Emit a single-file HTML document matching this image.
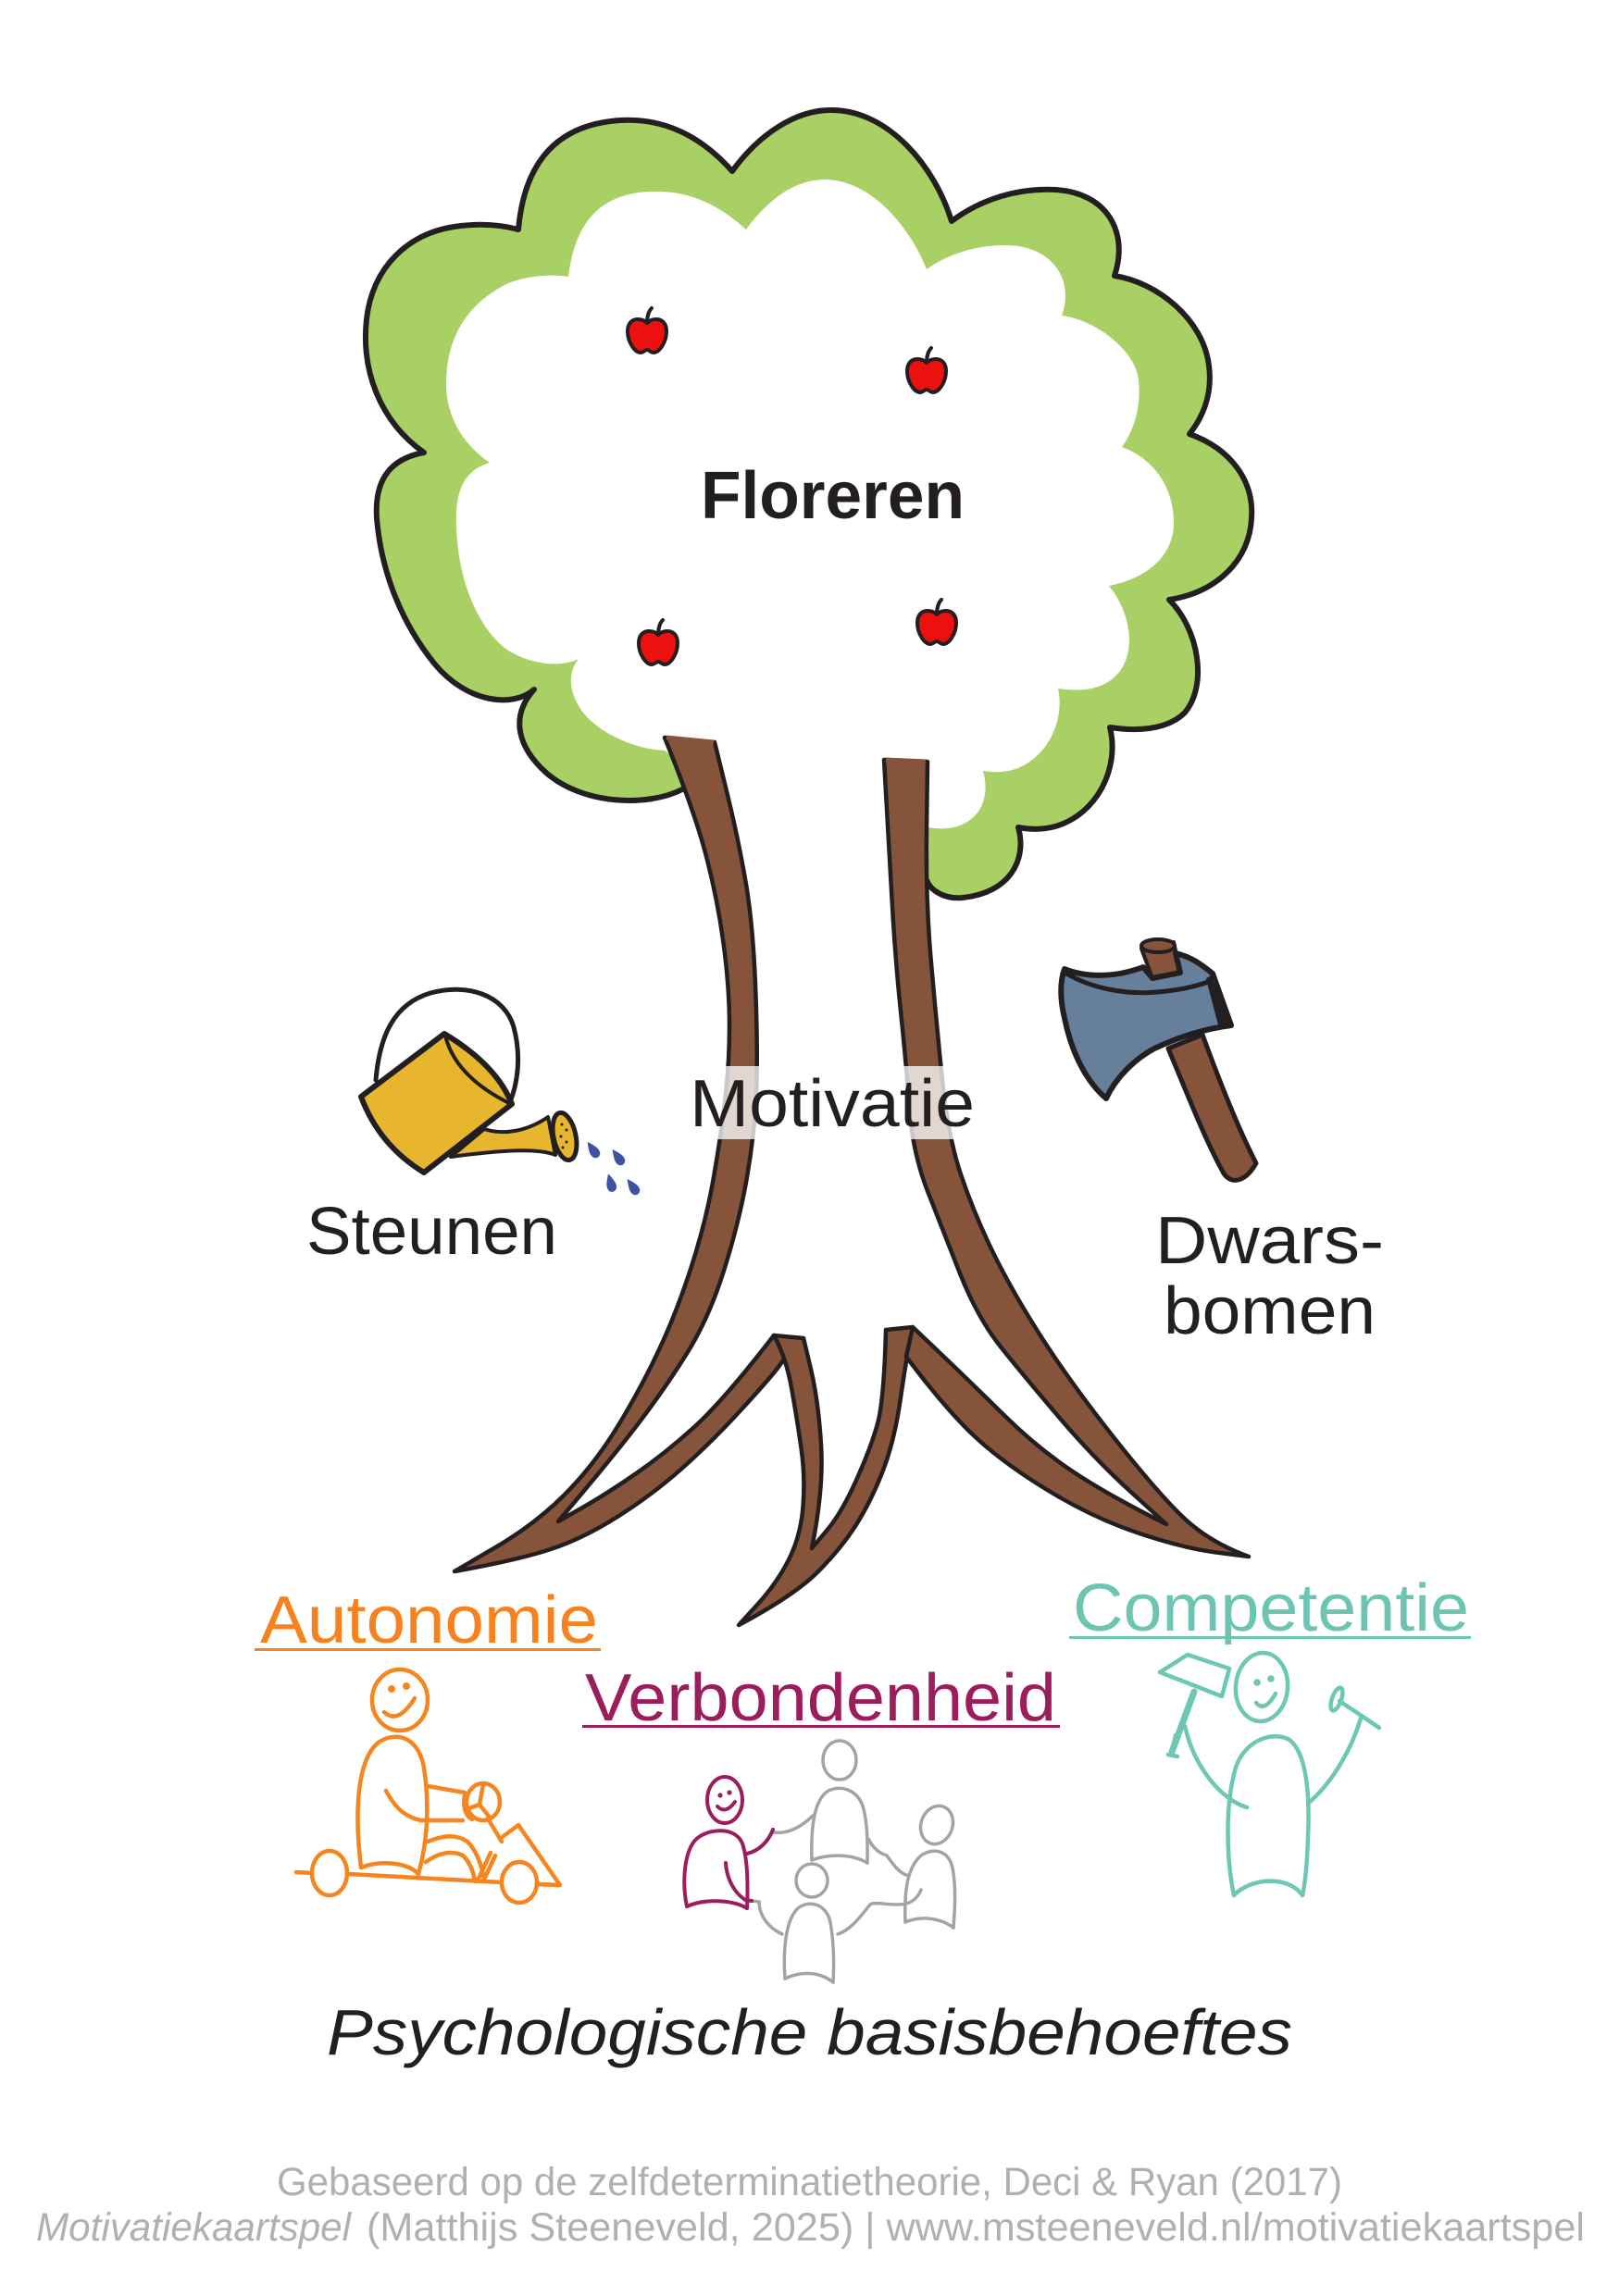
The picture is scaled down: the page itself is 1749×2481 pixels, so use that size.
<!DOCTYPE html>
<html>
<head>
<meta charset="utf-8">
<style>
html,body{margin:0;padding:0;background:#fff;}
svg{display:block;}
text{font-family:"Liberation Sans",sans-serif;}
</style>
</head>
<body>
<svg width="1749" height="2481" viewBox="0 0 1749 2481" xmlns="http://www.w3.org/2000/svg">
<rect width="1749" height="2481" fill="#fff"/>

<!-- Crown green -->
<path fill="#a8d064" d="M 737 853 C 700 872 630 870 590 835 C 560 808 550 775 577 745 C 555 765 505 760 470 718 C 435 675 412 620 407 560 C 404 515 425 495 458 489 C 410 455 390 400 396 345 C 402 290 440 250 498 244 C 525 241 545 244 560 248 C 565 190 590 135 670 130 C 720 127 760 150 791 185 C 820 145 860 118 900 119 C 960 120 1010 180 1028 239 C 1060 215 1100 203 1140 205 C 1195 208 1220 250 1204 298 C 1250 305 1300 345 1306 395 C 1310 425 1300 450 1285 469 C 1330 485 1355 520 1352 560 C 1350 605 1315 640 1263 648 C 1295 680 1305 740 1280 770 C 1260 790 1225 790 1199 786 C 1210 830 1185 880 1140 893 C 1125 897 1110 896 1100 894 C 1110 930 1090 965 1040 970 C 1020 972 1005 962 1001 951 L 990 830 L 760 800 Z"/>
<path fill="none" stroke="#231f20" stroke-width="6" stroke-linejoin="round" stroke-linecap="round" d="M 737 853 C 700 872 630 870 590 835 C 560 808 550 775 577 745 C 555 765 505 760 470 718 C 435 675 412 620 407 560 C 404 515 425 495 458 489 C 410 455 390 400 396 345 C 402 290 440 250 498 244 C 525 241 545 244 560 248 C 565 190 590 135 670 130 C 720 127 760 150 791 185 C 820 145 860 118 900 119 C 960 120 1010 180 1028 239 C 1060 215 1100 203 1140 205 C 1195 208 1220 250 1204 298 C 1250 305 1300 345 1306 395 C 1310 425 1300 450 1285 469 C 1330 485 1355 520 1352 560 C 1350 605 1315 640 1263 648 C 1295 680 1305 740 1280 770 C 1260 790 1225 790 1199 786 C 1210 830 1185 880 1140 893 C 1125 897 1110 896 1100 894 C 1110 930 1090 965 1040 970 C 1020 972 1005 962 1001 951"/>
<!-- Crown white inner -->
<path fill="#fff" d="M 718 811 C 690 810 650 795 630 770 C 615 750 612 728 625 712 C 605 722 570 718 545 700 C 515 675 498 630 494 585 C 490 540 495 510 529 500 C 500 480 482 450 482 415 C 482 370 500 330 549 306 C 570 298 595 296 614 299 C 620 250 640 215 690 208 C 740 202 775 220 806 248 C 830 215 860 193 893 194 C 945 196 985 250 1001 291 C 1030 270 1070 262 1100 266 C 1140 272 1160 305 1147 341 C 1180 345 1225 375 1230 410 C 1233 440 1225 465 1212 483 C 1245 495 1268 525 1268 565 C 1268 600 1240 625 1198 633 C 1220 660 1228 700 1210 725 C 1195 745 1170 748 1143 744 C 1150 775 1135 815 1100 830 C 1085 835 1075 835 1062 833 C 1070 860 1060 890 1025 895 C 1015 896 1008 895 1001 894 L 960 894 L 760 840 Z"/>

<!-- Apples -->
<g fill="#ec1010" stroke="#231f20" stroke-width="4" stroke-linejoin="round" stroke-linecap="round">
  <g transform="translate(699,362)"><path d="M 0 -13 C -5 -19 -21 -20 -21 -4 C -21 8 -13 19 -7 19 C -4 19 -2 16 0 16 C 2 16 4 19 7 19 C 13 19 21 8 21 -4 C 21 -20 5 -19 0 -13 Z"/><path fill="none" d="M 0 -13 C 0 -20 2 -26 5 -29"/></g>
  <g transform="translate(1001,405)"><path d="M 0 -13 C -5 -19 -21 -20 -21 -4 C -21 8 -13 19 -7 19 C -4 19 -2 16 0 16 C 2 16 4 19 7 19 C 13 19 21 8 21 -4 C 21 -20 5 -19 0 -13 Z"/><path fill="none" d="M 0 -13 C 0 -20 2 -26 5 -29"/></g>
  <g transform="translate(711,699)"><path d="M 0 -13 C -5 -19 -21 -20 -21 -4 C -21 8 -13 19 -7 19 C -4 19 -2 16 0 16 C 2 16 4 19 7 19 C 13 19 21 8 21 -4 C 21 -20 5 -19 0 -13 Z"/><path fill="none" d="M 0 -13 C 0 -20 2 -26 5 -29"/></g>
  <g transform="translate(1012,677)"><path d="M 0 -13 C -5 -19 -21 -20 -21 -4 C -21 8 -13 19 -7 19 C -4 19 -2 16 0 16 C 2 16 4 19 7 19 C 13 19 21 8 21 -4 C 21 -20 5 -19 0 -13 Z"/><path fill="none" d="M 0 -13 C 0 -20 2 -26 5 -29"/></g>
</g>

<text x="757" y="560" font-size="72" font-weight="bold" fill="#231f20" textLength="285" lengthAdjust="spacingAndGlyphs">Floreren</text>

<!-- Trunk -->
<g fill="#86543a" stroke="#231f20" stroke-width="4.5" stroke-linejoin="round">
  <path d="M 772 802 L 785 855 Q 798 908 806 955.5 Q 814 1003 816.5 1076.5 Q 819 1150 816.5 1191.5 Q 814 1233 806 1277.5 Q 798 1322 782 1373 Q 766 1424 742 1462.5 Q 718 1501 689 1539 Q 660 1577 603 1644 L 628.5 1629.5 Q 654 1615 686 1593 Q 718 1571 750 1542 Q 782 1513 836 1443 L 849 1466 L 841 1477 Q 833 1488 801 1523 Q 769 1558 737 1586.5 Q 705 1615 667 1639 Q 629 1663 593.5 1674.5 Q 558 1686 491 1698 L 534.5 1672.5 Q 578 1647 609.5 1615.5 Q 641 1584 666.5 1542.5 Q 692 1501 711.5 1459.5 Q 731 1418 746.5 1370 Q 762 1322 770 1277.5 Q 778 1233 783 1191.5 Q 788 1150 788 1108.5 Q 788 1067 781.5 1019 Q 775 971 762.5 923.5 Q 750 876 718 797 Z"/>
  <path d="M 836 1443 L 868 1446 L 876 1479.5 Q 884 1513 887 1561 Q 890 1609 877 1673 L 893 1654 Q 909 1635 925 1599.5 Q 941 1564 948 1538.5 Q 955 1513 957 1437 L 986 1434 L 982.5 1451.5 Q 979 1469 972.5 1513.5 Q 966 1558 953.5 1590 Q 941 1622 925 1647.5 Q 909 1673 883.5 1698.5 Q 858 1724 798 1756 L 818.5 1733.5 Q 839 1711 852 1685.5 Q 865 1660 867.5 1628 Q 870 1596 865.5 1564.5 Q 861 1533 855 1499.5 Q 849 1466 836 1443 Z"/>
  <path d="M 955 821 L 1002 823 L 1001 897 Q 1000 971 1005.5 1035 Q 1011 1099 1017.5 1162.5 Q 1024 1226 1036.5 1264.5 Q 1049 1303 1068.5 1344.5 Q 1088 1386 1120 1437 Q 1152 1488 1199.5 1548.5 Q 1247 1609 1276 1637.5 Q 1305 1666 1349 1682 L 1314 1677.5 Q 1279 1673 1231 1657 Q 1183 1641 1135.5 1612.5 Q 1088 1584 1056 1555 Q 1024 1526 979 1466 L 986 1434 L 1017.5 1464 Q 1049 1494 1084.5 1529 Q 1120 1564 1158 1589.5 Q 1196 1615 1260 1647 L 1221.5 1612 Q 1183 1577 1145 1532.5 Q 1107 1488 1081.5 1456 Q 1056 1424 1037 1376 Q 1018 1328 1002 1287 Q 986 1246 982.5 1198 Q 979 1150 973 1092.5 Q 967 1035 963.5 971.5 Q 960 908 955 821 Z"/>
</g>
<!-- hide top edge strokes -->
<line x1="720" y1="797" x2="771" y2="802" stroke="#86543a" stroke-width="5"/>
<line x1="957" y1="821" x2="1000" y2="823" stroke="#86543a" stroke-width="5"/>

<rect x="742" y="1152" width="316" height="79" fill="#fff" opacity="0.76"/>
<text x="745" y="1217" font-size="72" fill="#231f20" textLength="308" lengthAdjust="spacingAndGlyphs">Motivatie</text>

<!-- Watering can -->
<g stroke="#231f20" stroke-linejoin="round" stroke-linecap="round">
  <path fill="none" stroke-width="5" d="M 406 1167 C 410 1120 425 1085 465 1073 C 505 1062 545 1075 555 1110 C 563 1140 560 1170 550 1193"/>
  <path fill="#e8b52f" stroke-width="4" d="M 523 1220 C 545 1227 570 1222 592 1207 L 600 1248 C 580 1240 540 1243 487 1250 Z"/>
  <path fill="#e8b52f" stroke-width="6" d="M 390 1185 L 480 1117 C 510 1135 540 1160 553 1193 L 458 1267 C 430 1250 405 1225 390 1185 Z"/>
  <path fill="none" stroke-width="4" d="M 481 1119 C 488 1148 510 1172 550 1192"/>
  <ellipse cx="610" cy="1228" rx="12" ry="26" transform="rotate(-12 610 1228)" fill="#e8b52f" stroke-width="5"/>
</g>
<g fill="#231f20">
  <circle cx="607" cy="1215" r="1.5"/><circle cx="612" cy="1221" r="1.5"/><circle cx="606" cy="1228" r="1.5"/><circle cx="612" cy="1234" r="1.5"/><circle cx="608" cy="1240" r="1.5"/>
</g>
<g fill="#3f51a3">
  <path transform="translate(641,1243) rotate(-35)" d="M 0 -11 Q 6 0 5 4 A 5 5 0 0 1 -5 4 Q -6 0 0 -11 Z"/>
  <path transform="translate(668,1251) rotate(-35)" d="M 0 -11 Q 6 0 5 4 A 5 5 0 0 1 -5 4 Q -6 0 0 -11 Z"/>
  <path transform="translate(660,1279) rotate(-15)" d="M 0 -11 Q 6 0 5 4 A 5 5 0 0 1 -5 4 Q -6 0 0 -11 Z"/>
  <path transform="translate(684,1283) rotate(-35)" d="M 0 -11 Q 6 0 5 4 A 5 5 0 0 1 -5 4 Q -6 0 0 -11 Z"/>
</g>
<text x="331" y="1355" font-size="72" fill="#231f20" textLength="271" lengthAdjust="spacingAndGlyphs">Steunen</text>

<!-- Axe -->
<g stroke="#231f20" stroke-linejoin="round" stroke-linecap="round">
  <path fill="#86543a" stroke-width="5" d="M 1262 1133 C 1282 1180 1300 1228 1322 1268 C 1330 1280 1345 1278 1357 1257 C 1338 1220 1318 1170 1299 1118 Z"/>
  <path fill="#86543a" stroke-width="4" d="M 1233 1025 L 1245 1057 L 1275 1051 L 1268 1018 Z"/>
  <ellipse cx="1251" cy="1022" rx="18" ry="7" fill="#86543a" stroke-width="4"/>
  <path fill="#667f9b" stroke-width="6" d="M 1150 1047 C 1170 1055 1200 1058 1235 1045 L 1245 1057 L 1275 1051 L 1270 1030 C 1288 1034 1300 1044 1310 1052 L 1330 1108 C 1300 1112 1275 1120 1247 1133 C 1225 1145 1205 1165 1195 1187 C 1175 1170 1158 1140 1150 1100 C 1145 1080 1145 1060 1150 1047 Z"/>
  <path fill="none" stroke-width="5" d="M 1152 1052 C 1180 1068 1215 1075 1250 1072 C 1275 1070 1295 1065 1308 1060"/>
  <path fill="#231f20" stroke-width="2" d="M 1304 1058 L 1312 1052 L 1331 1108 L 1318 1111 Z"/>
</g>
<text x="1248" y="1365" font-size="72" fill="#231f20" textLength="247" lengthAdjust="spacingAndGlyphs">Dwars-</text>
<text x="1257" y="1441" font-size="72" fill="#231f20" textLength="229" lengthAdjust="spacingAndGlyphs">bomen</text>

<!-- Headings -->
<text x="281" y="1775" font-size="72" fill="#f5821f" textLength="365" lengthAdjust="spacingAndGlyphs">Autonomie</text>
<rect x="275" y="1781" width="374" height="3" fill="#f5821f"/>
<text x="632" y="1859" font-size="72" fill="#9b1d5c" textLength="509" lengthAdjust="spacingAndGlyphs">Verbondenheid</text>
<rect x="629" y="1864" width="516" height="3" fill="#9b1d5c"/>
<text x="1159" y="1762" font-size="72" fill="#6cc5b1" textLength="428" lengthAdjust="spacingAndGlyphs">Competentie</text>
<rect x="1155" y="1768" width="434" height="3" fill="#6cc5b1"/>

<!-- Autonomie figure -->
<g fill="none" stroke="#f5861f" stroke-width="4.5" stroke-linecap="round" stroke-linejoin="round">
  <ellipse cx="432" cy="1837" rx="30" ry="33"/>
  <path d="M 415 1850 Q 430 1864 448 1835"/>
  <path d="M 390 2018 C 383 1960 385 1900 410 1882 C 430 1870 452 1878 458 1910 C 464 1950 462 1990 452 2025"/>
  <path d="M 390 2018 C 410 2010 440 2012 452 2025"/>
  <path d="M 417 1935 C 425 1950 435 1963 455 1967 L 500 1967"/>
  <path d="M 462 1930 L 502 1937"/>
  <ellipse cx="522" cy="1947" rx="18" ry="20"/>
  <path d="M 502 1940 C 500 1950 502 1962 510 1966 M 522 1928 L 518 1950 L 504 1955 M 518 1950 L 530 1965"/>
  <path d="M 462 1990 C 475 1985 490 1980 505 1990 C 515 2000 520 2015 523 2030"/>
  <path d="M 460 2012 C 470 2005 485 1998 500 2005 C 508 2012 512 2025 513 2033"/>
  <path d="M 320 2023 L 338 2024 M 376 2025 L 542 2034 M 580 2036 L 604 2037"/>
  <ellipse cx="356" cy="2024" rx="19" ry="24" fill="#fff"/>
  <ellipse cx="561" cy="2034" rx="19" ry="22" fill="#fff"/>
  <path d="M 540 1987 L 560 1972 L 605 2037 L 582 2036"/>
  <path d="M 527 1965 L 542 1990"/>
  <path d="M 516 2032 L 530 2002 M 522 2033 L 535 2005"/>
</g>
<g fill="#f5861f"><circle cx="423" cy="1825" r="4"/><circle cx="439" cy="1822" r="4"/></g>

<!-- Verbondenheid figures -->
<g fill="none" stroke="#a3a3a5" stroke-width="3.5" stroke-linecap="round" stroke-linejoin="round">
  <path d="M 836 1980 C 850 1982 865 1975 878 1962"/>
  <ellipse cx="907" cy="1902" rx="18" ry="21"/>
  <path d="M 877 2010 C 876 1980 878 1945 895 1935 C 910 1928 928 1935 933 1955 C 938 1975 937 2000 937 2013"/>
  <path d="M 877 2010 C 895 2003 920 2003 937 2013"/>
  <path d="M 938 1987 C 945 2000 952 2003 958 2005 C 965 2015 972 2025 982 2027"/>
  <ellipse cx="1012" cy="1972" rx="17" ry="21" transform="rotate(20 1012 1972)"/>
  <path d="M 978 2077 C 977 2050 978 2020 995 2005 C 1010 1995 1028 2000 1030 2025 C 1033 2045 1031 2070 1030 2083"/>
  <path d="M 978 2077 C 995 2070 1015 2072 1030 2083"/>
  <path d="M 995 2042 C 990 2055 980 2058 970 2058 C 955 2058 945 2055 940 2058 C 930 2070 920 2085 905 2090"/>
  <ellipse cx="877" cy="2032" rx="17" ry="18"/>
  <path d="M 848 2138 C 846 2110 848 2075 862 2062 C 875 2052 893 2058 897 2077 C 901 2100 901 2125 900 2142"/>
  <path d="M 848 2138 C 865 2130 885 2130 900 2142"/>
  <path d="M 812 2054 L 820 2055 C 820 2068 828 2082 845 2090"/>
</g>
<g fill="none" stroke="#9c1d5e" stroke-width="4" stroke-linecap="round" stroke-linejoin="round">
  <ellipse cx="783" cy="1945" rx="19" ry="25"/>
  <path d="M 775 1952 Q 784 1961 794 1947"/>
  <path d="M 742 2060 C 736 2030 740 1995 755 1985 C 770 1975 795 1975 802 1992 C 808 2010 808 2040 807 2062"/>
  <path d="M 742 2060 C 760 2052 790 2052 807 2062"/>
  <path d="M 807 2003 C 820 2000 830 1990 835 1977"/>
  <path d="M 784 2013 C 785 2030 793 2045 805 2053 L 812 2054"/>
</g>
<g fill="#9c1d5e"><circle cx="778" cy="1940" r="2.6"/><circle cx="788" cy="1937" r="2.6"/></g>

<!-- Competentie figure -->
<g fill="none" stroke="#6cc7b3" stroke-width="4.5" stroke-linecap="round" stroke-linejoin="round">
  <ellipse cx="1363" cy="1823" rx="28" ry="37" transform="rotate(5 1363 1823)"/>
  <path d="M 1357 1840 Q 1366 1851 1378 1830"/>
  <path d="M 1333 2048 C 1325 2010 1323 1950 1335 1910 C 1345 1880 1375 1870 1393 1880 C 1412 1895 1415 1940 1413 1985 C 1412 2015 1410 2035 1407 2048"/>
  <path d="M 1333 2048 C 1350 2030 1390 2025 1407 2048"/>
  <path d="M 1347 1953 C 1320 1945 1290 1910 1280 1865"/>
  <path stroke-width="7" d="M 1266 1893 L 1290 1828"/>
  <path d="M 1262 1896 L 1272 1898 M 1270 1875 L 1266 1895"/>
  <polygon points="1253,1807 1283,1788 1328,1803 1320,1833"/>
  <path d="M 1415 1947 C 1440 1925 1460 1890 1470 1857"/>
  <path d="M 1447 1838 L 1490 1867"/>
  <ellipse cx="1444" cy="1836" rx="5" ry="13" transform="rotate(20 1444 1836)"/>
</g>
<g fill="#6cc7b3"><circle cx="1358" cy="1818" r="3.8"/><circle cx="1373" cy="1814" r="3.8"/></g>

<text x="353" y="2220" font-size="70" font-style="italic" fill="#231f20" textLength="1043" lengthAdjust="spacingAndGlyphs">Psychologische basisbehoeftes</text>

<!-- Footer -->
<text x="299" y="2372" font-size="43" fill="#b0b0b0" textLength="1151" lengthAdjust="spacingAndGlyphs">Gebaseerd op de zelfdeterminatietheorie, Deci &amp; Ryan (2017)</text>
<text x="39" y="2421" font-size="43" font-style="italic" fill="#b0b0b0" textLength="340" lengthAdjust="spacingAndGlyphs">Motivatiekaartspel</text>
<text x="396" y="2421" font-size="43" fill="#b0b0b0" textLength="1316" lengthAdjust="spacingAndGlyphs">(Matthijs Steeneveld, 2025) | www.msteeneveld.nl/motivatiekaartspel</text>
</svg>
</body>
</html>
